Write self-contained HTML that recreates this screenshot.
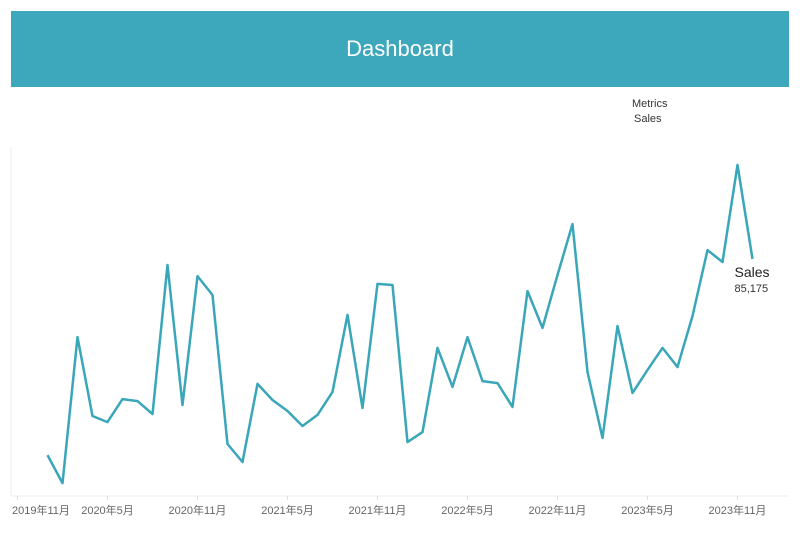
<!DOCTYPE html>
<html><head><meta charset="utf-8"><style>
body{margin:0;width:800px;height:533px;background:#fff;overflow:hidden;font-family:"Liberation Sans","Noto Sans CJK JP",sans-serif;}
#hdr{position:absolute;left:11px;top:11px;width:778px;height:76px;background:#3da8bb;color:#fff;font-size:22px;text-align:center;line-height:76px;}
</style></head><body>
<div id="hdr">Dashboard</div>
<svg id="chart" width="800" height="533" style="position:absolute;left:0;top:0">
<text x="632" y="107" font-size="11" fill="#333">Metrics</text>
<text x="634" y="122" font-size="11" fill="#333">Sales</text>
<line x1="11" y1="147" x2="11" y2="496" stroke="#eee"/>
<line x1="11" y1="496" x2="789" y2="496" stroke="#eee"/>
<g id="ticks"></g>
<path id="line" fill="none" stroke="#3aa6b9" stroke-width="2.5" stroke-linejoin="round"/>
<text id="lbl1" font-size="14" fill="#222">Sales</text>
<text id="lbl2" font-size="11" fill="#333"></text>
</svg>
<script>
const months = [];
for (let y = 2020; y <= 2023; y++) for (let m = 1; m <= 12; m++) months.push(y + "-" + m);
const sales = [14400,4300,57000,28500,26300,34600,33900,29200,83000,32500,79000,72200,
18400,11900,40100,34300,30300,24900,28900,37200,65000,31400,76200,75800,
19100,22700,53100,39000,57000,41100,40400,31800,73600,60300,79400,97800,
44400,20600,61000,36800,45100,53100,46200,64600,88400,84100,119100,85175];
const tickLabels = ["2019年11月","2020年5月","2020年11月","2021年5月","2021年11月","2022年5月","2022年11月","2023年5月","2023年11月"];
const tickOffsets = [-2,4,10,16,22,28,34,40,46];
const x = i => 47.5 + i * 15;
const yv = v => 495 - v * 236 / 85175;
const svg = document.getElementById('chart');
const ns = "http://www.w3.org/2000/svg";
let d = "";
sales.forEach((v, i) => { d += (i ? "L" : "M") + x(i).toFixed(1) + " " + yv(v).toFixed(1); });
document.getElementById('line').setAttribute('d', d);
const g = document.getElementById('ticks');
tickLabels.forEach((t, k) => {
  const px = x(tickOffsets[k]);
  const ln = document.createElementNS(ns, 'line');
  
  
  ln.setAttribute('x1', px); ln.setAttribute('x2', px); ln.setAttribute('y1', 496); ln.setAttribute('y2', 500);
  ln.setAttribute('stroke', '#ddd');
  g.appendChild(ln);
  const tx = document.createElementNS(ns, 'text');
  
  
  tx.setAttribute('x', k === 0 ? 12 : px);
  tx.setAttribute('y', 514);
  tx.setAttribute('font-size', '11');
  tx.setAttribute('fill', '#666');
  tx.setAttribute('text-anchor', k === 0 ? 'start' : 'middle');
  tx.textContent = t;
  g.appendChild(tx);
});
const last = sales.length - 1;
const l1 = document.getElementById('lbl1');
l1.setAttribute('x', x(last) - 18); l1.setAttribute('y', yv(sales[last]) + 18);
const l2 = document.getElementById('lbl2');
l2.setAttribute('x', x(last) - 18); l2.setAttribute('y', yv(sales[last]) + 33);
l2.textContent = sales[last].toLocaleString('en-US');
</script>
</body></html>
